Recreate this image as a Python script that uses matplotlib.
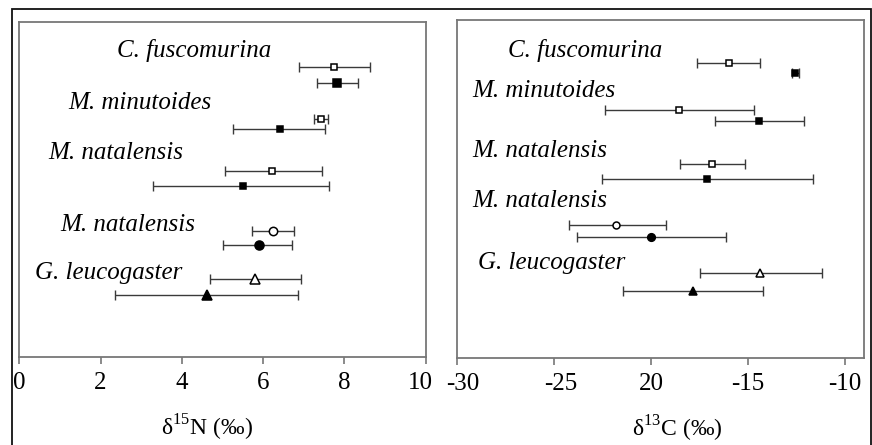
import numpy as np
import matplotlib.pyplot as plt
import matplotlib.transforms as mtransforms
from matplotlib.patches import Rectangle

plt.rcParams['font.family'] = ['Liberation Serif', 'DejaVu Serif']
plt.rcParams['mathtext.fontset'] = 'custom'
plt.rcParams['mathtext.rm'] = 'Liberation Serif'

species = ['C. fuscomurina', 'M. minutoides', 'M. natalensis', 'M. natalensis', 'G. leucogaster']

# d15N: mean, lower, upper (two rows per species: open then filled)
n_mean = [7.75, 7.82, 7.42, 6.41, 6.23, 5.51, 6.25, 5.89, 5.80, 4.63]
n_low = [6.89, 7.33, 7.24, 5.25, 5.05, 3.30, 5.73, 5.00, 4.69, 2.35]
n_high = [8.64, 8.34, 7.60, 7.53, 7.44, 7.62, 6.76, 6.71, 6.94, 6.85]
n_rows = [44.7, 60.4, 96.4, 107, 148.4, 163.7, 208.4, 222.4, 256.4, 273]

# d13C
c_mean = [-16.0, -12.56, -18.57, -14.45, -16.84, -17.11, -21.80, -19.98, -14.38, -17.84]
c_low = [-17.63, -12.75, -22.35, -16.72, -18.49, -22.54, -24.24, -23.80, -17.47, -21.44]
c_high = [-14.36, -12.35, -14.69, -12.10, -15.17, -11.67, -19.23, -16.12, -11.20, -14.24]
c_rows = [42.7, 53.3, 90.3, 101.3, 144, 158.7, 205.3, 217, 253.3, 270.7]

markers = ['s', 's', 's', 's', 's', 's', 'o', 'o', '^', '^']
filled = [False, True, False, True, False, True, False, True, False, True]
n_ms = [5, 5.5, 5, 5, 5, 5, 6, 6.5, 6.5, 7]
c_ms = [4.5, 5, 4.5, 5, 4.5, 5, 5, 5.5, 6, 6]

n_lab_x = [2.40, 1.20, 0.71, 1.00, 0.39]
n_lab_y = [27.7, 80.7, 130.7, 202.7, 250.7]
c_lab_x = [-27.37, -29.23, -29.23, -29.23, -28.92]
c_lab_y = [30, 70.7, 130.7, 181, 243]

W, H = 872, 445
fig = plt.figure(figsize=(W / 100, H / 100), dpi=100)

# outer frame
fig.patches.append(Rectangle((11.5 / W, -0.01), (871 - 11.5) / W, (H - 9) / H + 0.01,
                             transform=fig.transFigure, fill=False,
                             edgecolor='#111111', lw=1.3))

ax1 = fig.add_axes([19.3 / W, (H - 356.7) / H, (425.7 - 19.3) / W, (356.7 - 22.3) / H])
ax2 = fig.add_axes([457 / W, (H - 357.7) / H, (864.3 - 457) / W, (357.7 - 20) / H])


def draw(ax, means, lows, highs, rows, sizes):
    for i in range(len(means)):
        xerr = [[means[i] - lows[i]], [highs[i] - means[i]]]
        ax.errorbar([means[i]], [rows[i]], xerr=xerr, fmt='none', ecolor='#3a3a3a',
                    elinewidth=1, capsize=3.5, capthick=1)
        ax.plot([means[i]], [rows[i]], marker=markers[i], ms=sizes[i],
                mfc='black' if filled[i] else 'white', mec='black', mew=1.1,
                linestyle='none', zorder=3)


draw(ax1, n_mean, n_low, n_high, n_rows, n_ms)
draw(ax2, c_mean, c_low, c_high, c_rows, c_ms)

for name, x, y in zip(species, n_lab_x, n_lab_y):
    ax1.text(x, y, name, fontsize=18, style='italic', va='center', ha='left')
for name, x, y in zip(species, c_lab_x, c_lab_y):
    ax2.text(x, y, name, fontsize=18, style='italic', va='center', ha='left')

ax1.set_xlim(0, 10)
ax1.set_ylim(334.4, 0)
ax1.set_xticks([0, 2, 4, 6, 8, 10])
ax1.set_xlabel('δ$^{15}$N (‰)', fontsize=17)
ax1.xaxis.set_label_coords(0.462, -0.168)

ax2.set_xlim(-30, -9)
ax2.set_ylim(337.7, 0)
ax2.set_xticks([-30, -25, -20, -15, -10])
ax2.set_xticklabels(['-30', '-25', '20', '-15', '-10'])
ax2.set_xlabel('δ$^{13}$C (‰)', fontsize=17)
ax2.xaxis.set_label_coords(0.5416, -0.166)

for ax in (ax1, ax2):
    ax.set_yticks([])
    ax.tick_params(axis='x', direction='out', length=5, width=1.2, color='#777777',
                   labelsize=18, pad=6)
    for s in ax.spines.values():
        s.set_color('#777777')
        s.set_linewidth(1.3)

# small horizontal nudges of some tick labels, as in the original
def nudge(ax, idx, dx_px):
    lab = ax.xaxis.get_major_ticks()[idx].label1
    off = mtransforms.ScaledTranslation(dx_px / 100, 0, fig.dpi_scale_trans)
    lab.set_transform(lab.get_transform() + off)

nudge(ax1, 5, -5)
nudge(ax2, 0, 6)
nudge(ax2, 1, 7)

fig.savefig('out.png', dpi=100)
